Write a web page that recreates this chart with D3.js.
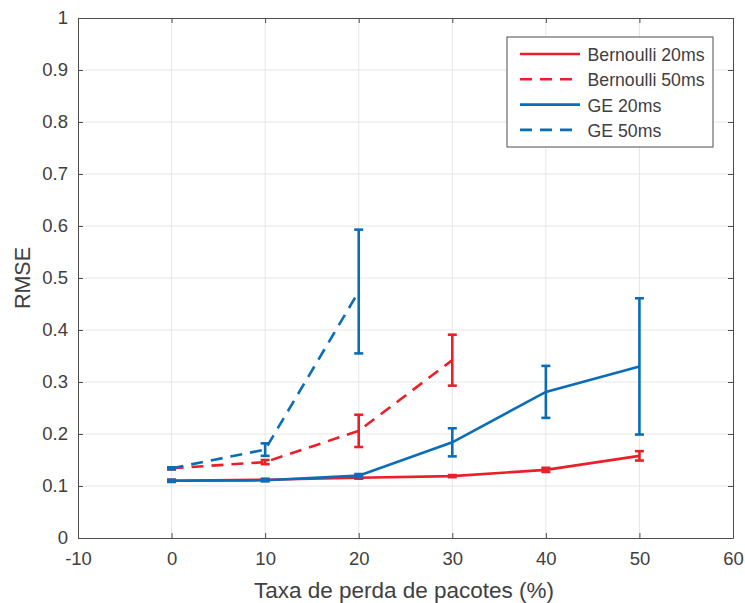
<!DOCTYPE html>
<html>
<head>
<meta charset="utf-8">
<script src="https://cdn.jsdelivr.net/npm/d3@7"></script>
<style>
  body { margin: 0; background: #fff; }
  svg text { font-family: "Liberation Sans", Arial, sans-serif; fill: #404040; }
</style>
</head>
<body>
<div id="chart"></div>
<script>
'use strict';

// loss rates (%)
var lossRates = [0, 10, 20, 30, 40, 50];

var bern20 = [0.110, 0.112, 0.116, 0.119, 0.131, 0.158];
var bern20Err = [0.002, 0.002, 0.002, 0.002, 0.004, 0.009];

var bern50 = [0.134, 0.146, 0.206, 0.342];
var bern50Err = [0.002, 0.004, 0.031, 0.049];

var ge20 = [0.110, 0.111, 0.120, 0.184, 0.281, 0.330];
var ge20Err = [0.002, 0.002, 0.003, 0.027, 0.050, 0.131];

var ge50 = [0.134, 0.170, 0.474];
var ge50Err = [0.002, 0.012, 0.119];

var xTicks = [-10, 0, 10, 20, 30, 40, 50, 60];
var yTicks = [0, 0.1, 0.2, 0.3, 0.4, 0.5, 0.6, 0.7, 0.8, 0.9, 1];

var series = [
  {name: 'Bernoulli 20ms', y: bern20, err: bern20Err, color: '#ea1f29', dash: null},
  {name: 'Bernoulli 50ms', y: bern50, err: bern50Err, color: '#ea1f29', dash: '12,8'},
  {name: 'GE 20ms', y: ge20, err: ge20Err, color: '#0b6db7', dash: null},
  {name: 'GE 50ms', y: ge50, err: ge50Err, color: '#0b6db7', dash: '12,8'}
];

var width = 745, height = 603;
var m = {left: 78, right: 733, top: 18, bottom: 538};

var svg = d3.select('#chart').append('svg')
  .attr('width', width)
  .attr('height', height);

var x = d3.scaleLinear().domain([-10, 60]).range([m.left, m.right]);
var y = d3.scaleLinear().domain([0, 1]).range([m.bottom, m.top]);

// grid
svg.append('g').selectAll('line.gx')
  .data(xTicks.slice(1, -1))
  .enter().append('line')
  .attr('x1', function (d) { return x(d); })
  .attr('x2', function (d) { return x(d); })
  .attr('y1', m.top).attr('y2', m.bottom)
  .attr('stroke', '#e6e6e6').attr('stroke-width', 1);
svg.append('g').selectAll('line.gy')
  .data(yTicks.slice(1, -1))
  .enter().append('line')
  .attr('y1', function (d) { return y(d); })
  .attr('y2', function (d) { return y(d); })
  .attr('x1', m.left).attr('x2', m.right)
  .attr('stroke', '#e6e6e6').attr('stroke-width', 1);

// axes
var xAxis = svg.append('g')
  .attr('transform', 'translate(0,' + m.bottom + ')')
  .call(d3.axisBottom(x).tickValues(xTicks).tickSizeInner(-5).tickSizeOuter(0).tickPadding(14)
    .tickFormat(function (d) { return String(d); }));
var xAxisTop = svg.append('g')
  .attr('transform', 'translate(0,' + m.top + ')')
  .call(d3.axisTop(x).tickValues(xTicks).tickSizeInner(-5).tickSizeOuter(0).tickFormat(''));
var yAxis = svg.append('g')
  .attr('transform', 'translate(' + m.left + ',0)')
  .call(d3.axisLeft(y).tickValues(yTicks).tickSizeInner(-5).tickSizeOuter(0).tickPadding(10)
    .tickFormat(function (d) { return d === 0 || d === 1 ? String(d) : d3.format('.1f')(d); }));
var yAxisRight = svg.append('g')
  .attr('transform', 'translate(' + m.right + ',0)')
  .call(d3.axisRight(y).tickValues(yTicks).tickSizeInner(-5).tickSizeOuter(0).tickFormat(''));

[xAxis, xAxisTop, yAxis, yAxisRight].forEach(function (g) {
  g.selectAll('path').attr('stroke', '#4d4d4d').attr('stroke-width', 1);
  g.selectAll('line').attr('stroke', '#4d4d4d');
  g.selectAll('text').attr('font-size', 18.5).attr('fill', '#404040')
    .style('font-family', '"Liberation Sans", Arial, sans-serif');
});

// series
var line = d3.line()
  .x(function (d) { return x(d.x); })
  .y(function (d) { return y(d.y); });

series.forEach(function (s) {
  var pts = s.y.map(function (v, i) { return {x: lossRates[i], y: v, e: s.err[i]}; });
  var g = svg.append('g');
  g.append('path')
    .datum(pts)
    .attr('d', line)
    .attr('fill', 'none')
    .attr('stroke', s.color)
    .attr('stroke-width', 2.6)
    .attr('stroke-dasharray', s.dash);
  var eb = g.selectAll('g.err').data(pts).enter().append('g')
    .attr('stroke', s.color).attr('stroke-width', 2.6);
  eb.append('line')
    .attr('x1', function (d) { return x(d.x); })
    .attr('x2', function (d) { return x(d.x); })
    .attr('y1', function (d) { return y(d.y - d.e); })
    .attr('y2', function (d) { return y(d.y + d.e); });
  eb.append('line')
    .attr('x1', function (d) { return x(d.x) - 4.5; })
    .attr('x2', function (d) { return x(d.x) + 4.5; })
    .attr('y1', function (d) { return y(d.y - d.e); })
    .attr('y2', function (d) { return y(d.y - d.e); });
  eb.append('line')
    .attr('x1', function (d) { return x(d.x) - 4.5; })
    .attr('x2', function (d) { return x(d.x) + 4.5; })
    .attr('y1', function (d) { return y(d.y + d.e); })
    .attr('y2', function (d) { return y(d.y + d.e); });
});

// titles
svg.append('text')
  .attr('x', 404)
  .attr('y', 598)
  .attr('text-anchor', 'middle')
  .attr('font-size', 22.5)
  .text('Taxa de perda de pacotes (%)');
svg.append('text')
  .attr('transform', 'translate(30,' + (m.top + m.bottom) / 2 + ')rotate(-90)')
  .attr('text-anchor', 'middle')
  .attr('font-size', 21.5)
  .text('RMSE');

// legend
var lg = svg.append('g').attr('transform', 'translate(507,37)');
lg.append('rect')
  .attr('width', 206).attr('height', 110)
  .attr('fill', '#fff').attr('stroke', '#4d4d4d').attr('stroke-width', 1);
series.forEach(function (s, i) {
  var yy = 17 + i * 25.3;
  lg.append('line')
    .attr('x1', 13).attr('x2', 73)
    .attr('y1', yy).attr('y2', yy)
    .attr('stroke', s.color).attr('stroke-width', 2.6)
    .attr('stroke-dasharray', s.dash);
  lg.append('text')
    .attr('x', 80.5).attr('y', yy + 7)
    .attr('font-size', 17.7)
    .attr('fill', '#262626')
    .text(s.name);
});
</script>
</body>
</html>
